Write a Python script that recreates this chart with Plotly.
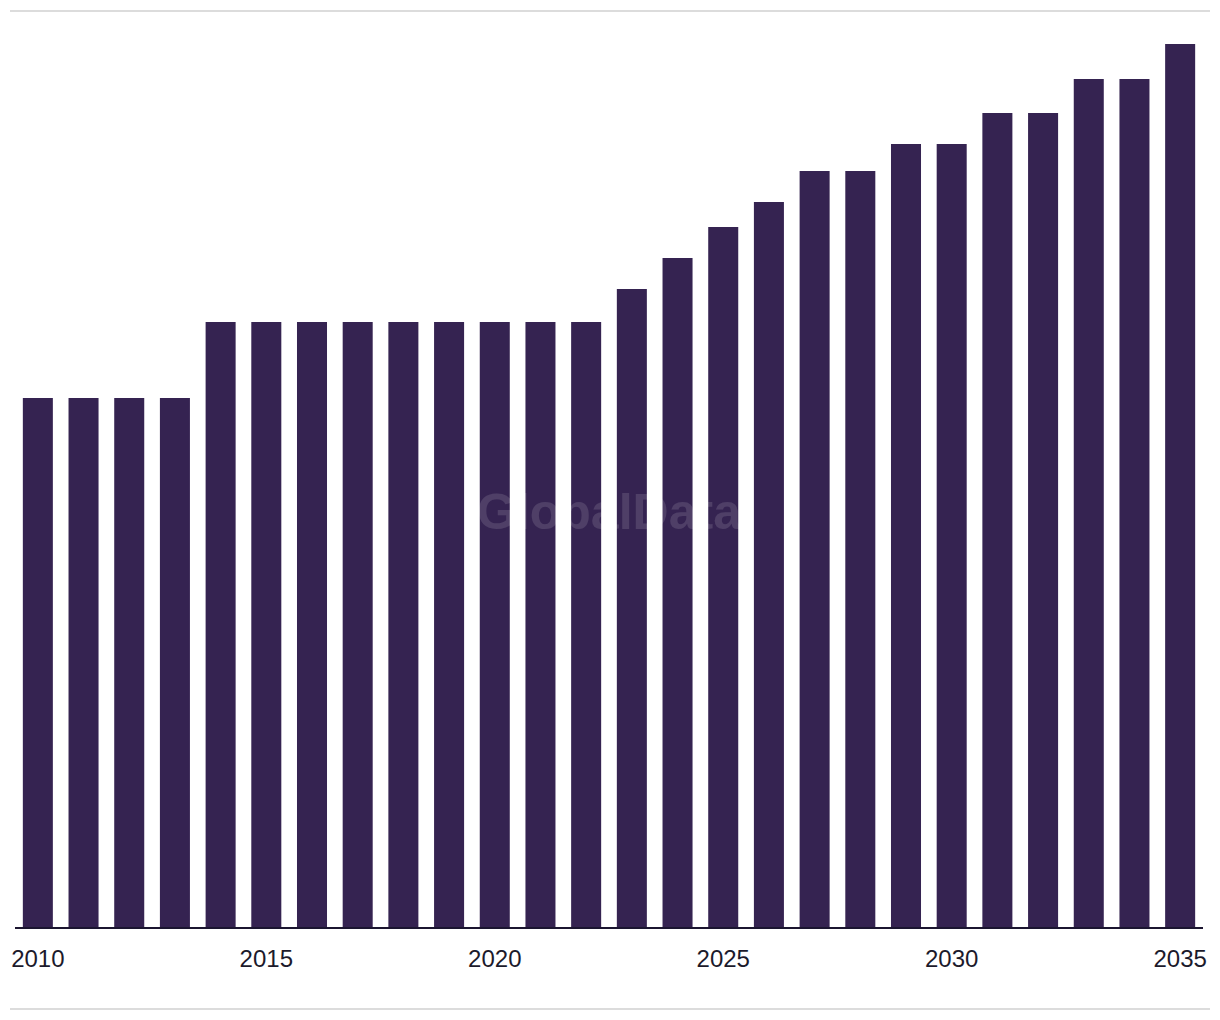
import plotly.graph_objects as go

years = list(range(2010, 2036))
values = [52.9, 52.9, 52.9, 52.9,
          60.5, 60.5, 60.5, 60.5, 60.5, 60.5, 60.5, 60.5, 60.5,
          63.8, 66.9, 70.0, 72.5, 75.6, 75.6, 78.3, 78.3, 81.4, 81.4, 84.8, 84.8, 88.3]
tick_years = [2010, 2015, 2020, 2025, 2030, 2035]
tick_labels = ["2010", "2015", "2020", "2025", "2030", "2035"]

BAR = "#352351"

fig = go.Figure(go.Bar(x=years, y=values, marker=dict(color=BAR, line=dict(width=0)),
                       hoverinfo="x+y"))

fig.update_layout(
    width=1220, height=1020,
    margin=dict(l=15, r=17, t=11, b=93),
    paper_bgcolor="white", plot_bgcolor="white",
    bargap=0.343,
    showlegend=False,
    font=dict(family="Liberation Sans, Arial, sans-serif", color="#1c1a2b"),
    xaxis=dict(range=[2009.5, 2035.5], tickmode="array", tickvals=tick_years, ticktext=tick_labels,
               showgrid=False, zeroline=False, showline=True, linecolor="#1b1530", linewidth=2,
               ticks="", tickfont=dict(size=24, color="#1c1a2b"), ticklabelstandoff=9),
    yaxis=dict(range=[0, 91.6], visible=False, showgrid=False, zeroline=False),
    shapes=[
        dict(type="line", xref="paper", yref="paper", x0=-0.0042, x1=1.0059, y0=1.0, y1=1.0,
             line=dict(color="#dcdcdc", width=2)),
        dict(type="line", xref="paper", yref="paper", x0=-0.0042, x1=1.0059, y0=-0.0895, y1=-0.0895,
             line=dict(color="#dcdcdc", width=2)),
    ],
    annotations=[
        dict(text="<b>GlobalData</b>", xref="paper", yref="paper", x=0.5, y=0.453,
             showarrow=False, font=dict(family="Liberation Sans, Arial, sans-serif", size=50,
                                        color="rgba(255,255,255,0.13)"))
    ],
)

fig.write_html("out.html", config={"displayModeBar": False},
               post_script="document.body.style.margin='0';")
